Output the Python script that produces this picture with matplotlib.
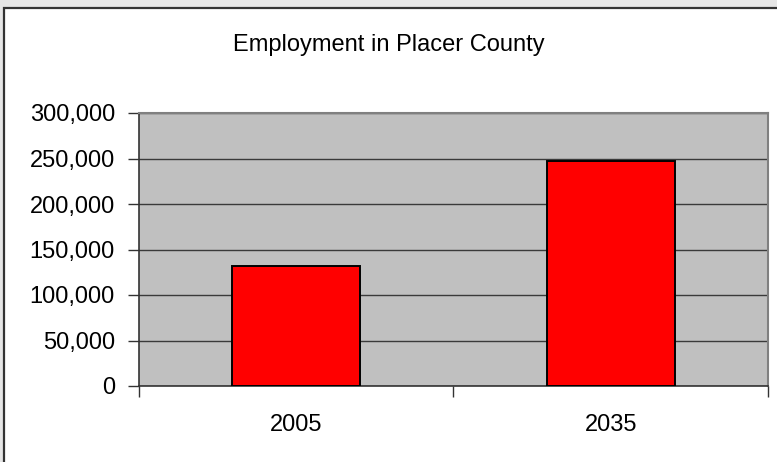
import matplotlib
matplotlib.use("Agg")
import matplotlib.pyplot as plt
from matplotlib.patches import Rectangle
from matplotlib.ticker import FuncFormatter

categories = ["2005", "2035"]
employment = [131500, 247500]
y_ticks = [0, 50000, 100000, 150000, 200000, 250000, 300000]
title = "Employment in Placer County"

plt.rcParams['font.family'] = ['Liberation Sans', 'DejaVu Sans']

W, H = 777, 462
fig = plt.figure(figsize=(W / 100, H / 100), dpi=100)
fig.patch.set_facecolor('#e6e6e6')

# white chart box with dark top/left border
fig.patches.append(Rectangle((4 / W, -0.05), 1.1, 1 - 8 / H + 0.05,
                             transform=fig.transFigure, facecolor='white',
                             edgecolor='#333333', linewidth=1.6, zorder=-5))

left, right = 138.5 / W, 768 / W
bottom, top = 1 - 386 / H, 1 - 113 / H
ax = fig.add_axes([left, bottom, right - left, top - bottom])
ax.set_zorder(2)
ax.set_facecolor('#c0c0c0')

x = list(range(len(categories)))
ax.bar(x, employment, width=0.407, color='#ff0000', edgecolor='black',
       linewidth=1.4, zorder=3)

ax.set_xlim(-0.5, len(categories) - 0.5)
ax.set_ylim(0, 300000)
ax.set_yticks(y_ticks)
ax.yaxis.set_major_formatter(FuncFormatter(lambda v, p: f"{int(v):,}"))
ax.grid(axis='y', color='#3a3a3a', linewidth=1.0, zorder=1)
ax.set_axisbelow(True)

# category labels centred, ticks between categories
ax.set_xticks([i - 0.5 for i in range(len(categories) + 1)])
ax.set_xticklabels([])
ax.set_xticks(x, minor=True)
ax.set_xticklabels(categories, minor=True)
ax.tick_params(axis='x', which='major', direction='out', length=8, width=1.0,
               color='#333333')
ax.tick_params(axis='x', which='minor', length=0, pad=20, labelsize=17)
ax.tick_params(axis='y', direction='out', length=8, width=1.0, color='#333333',
               pad=9, labelsize=17)

for s in ['top', 'right']:
    ax.spines[s].set_color('#808080')
    ax.spines[s].set_linewidth(1.5)
for s in ['left', 'bottom']:
    ax.spines[s].set_color('#333333')
    ax.spines[s].set_linewidth(1.2)

fig.text(389 / W, 1 - 45 / H, title, ha='center', va='center', fontsize=17)

fig.savefig('out.png', dpi=100, facecolor=fig.get_facecolor())
